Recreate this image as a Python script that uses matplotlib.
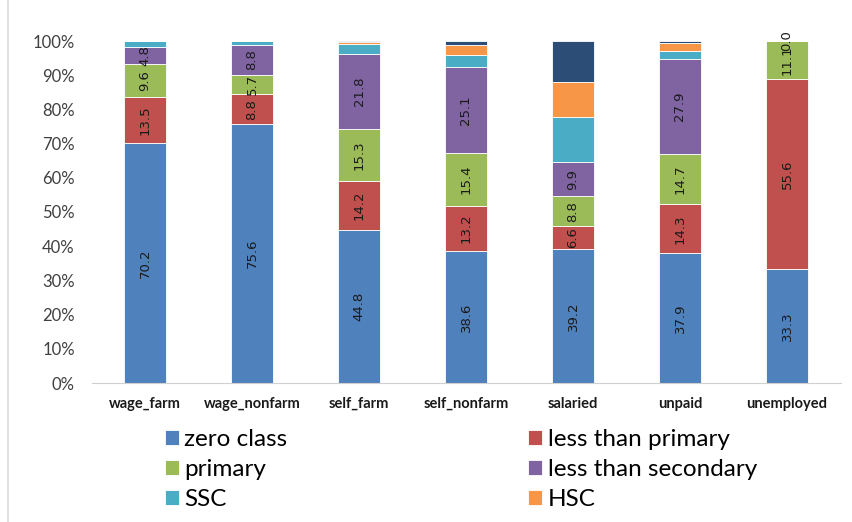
import matplotlib
matplotlib.use("Agg")
import matplotlib.pyplot as plt
from matplotlib.lines import Line2D
import numpy as np

categories = ["wage_farm", "wage_nonfarm", "self_farm", "self_nonfarm",
              "salaried", "unpaid", "unemployed"]

zero_class = [70.2, 75.6, 44.8, 38.6, 39.2, 37.9, 33.3]
less_than_primary = [13.5, 8.8, 14.2, 13.2, 6.6, 14.3, 55.6]
primary = [9.6, 5.7, 15.3, 15.4, 8.8, 14.7, 11.1]
less_than_secondary = [4.8, 8.8, 21.8, 25.1, 9.9, 27.9, 0.0]
ssc = [1.9, 1.1, 2.9, 3.6, 13.2, 2.4, 0.0]
hsc = [0.0, 0.0, 0.7, 2.8, 10.4, 2.1, 0.0]
higher = [0.0, 0.0, 0.3, 1.3, 11.9, 0.7, 0.0]

series = [zero_class, less_than_primary, primary, less_than_secondary, ssc, hsc, higher]
names = ["zero class", "less than primary", "primary", "less than secondary",
         "SSC", "HSC", None]
colors = ["#4F81BD", "#C0504D", "#9BBB59", "#8064A2", "#4BACC6", "#F79646", "#2C4D75"]
labelled = [True, True, True, True, False, False, False]

plt.rcParams["font.family"] = ["Lato", "DejaVu Sans"]

fig = plt.figure(figsize=(8.53, 5.22), dpi=100)
ax = fig.add_axes([91.5 / 853, 1 - 383 / 522, (840.5 - 91.5) / 853, (383 - 41) / 522])

x = np.arange(len(categories))
bottom = np.zeros(len(categories))
handles = []
for vals, name, col, lab in zip(series, names, colors, labelled):
    vals = np.array(vals, dtype=float)
    bars = ax.bar(x, vals, width=0.4, bottom=bottom, color=col,
                  edgecolor="white", linewidth=0.6)
    if name is not None:
        handles.append((bars, name))
    if lab:
        for xi, b, v in zip(x, bottom, vals):
            ax.text(xi, b + v / 2, f"{v:.1f}", rotation=90, ha="center",
                    va="center", fontsize=9.5, color="#1a1a1a",
                    family=["DejaVu Sans"])
    bottom += vals

ax.set_xlim(-0.5, len(categories) - 0.5)
ax.set_ylim(0, 100)
ax.set_yticks(np.arange(0, 101, 10))
ax.set_yticklabels([f"{t}%" for t in range(0, 101, 10)], fontsize=12, color="#404040")
ax.set_xticks(x)
ax.set_xticklabels(categories, fontsize=10.5, fontweight="bold", color="#1a1a1a")
ax.tick_params(axis="both", length=0)
ax.tick_params(axis="y", pad=12)
ax.tick_params(axis="x", pad=10)
for s in ["top", "right", "left"]:
    ax.spines[s].set_visible(False)
ax.spines["bottom"].set_color("#d0d0d0")

# legend entries filled row by row in two columns
order = [0, 2, 4, 1, 3, 5]
leg = fig.legend([handles[i][0] for i in order], [handles[i][1] for i in order],
                 ncol=2, loc="upper left", bbox_to_anchor=(165 / 853, 1 - 429 / 522),
                 frameon=False, fontsize=17.5, handlelength=0.58, handleheight=0.58,
                 handletextpad=0.22, columnspacing=9.9, labelspacing=0.38,
                 borderaxespad=0, borderpad=0)

fig.add_artist(Line2D([8 / 853, 8 / 853], [0, 1], transform=fig.transFigure,
                      color="#d9d9d9", linewidth=1.2))

fig.savefig("out.png", dpi=100)
